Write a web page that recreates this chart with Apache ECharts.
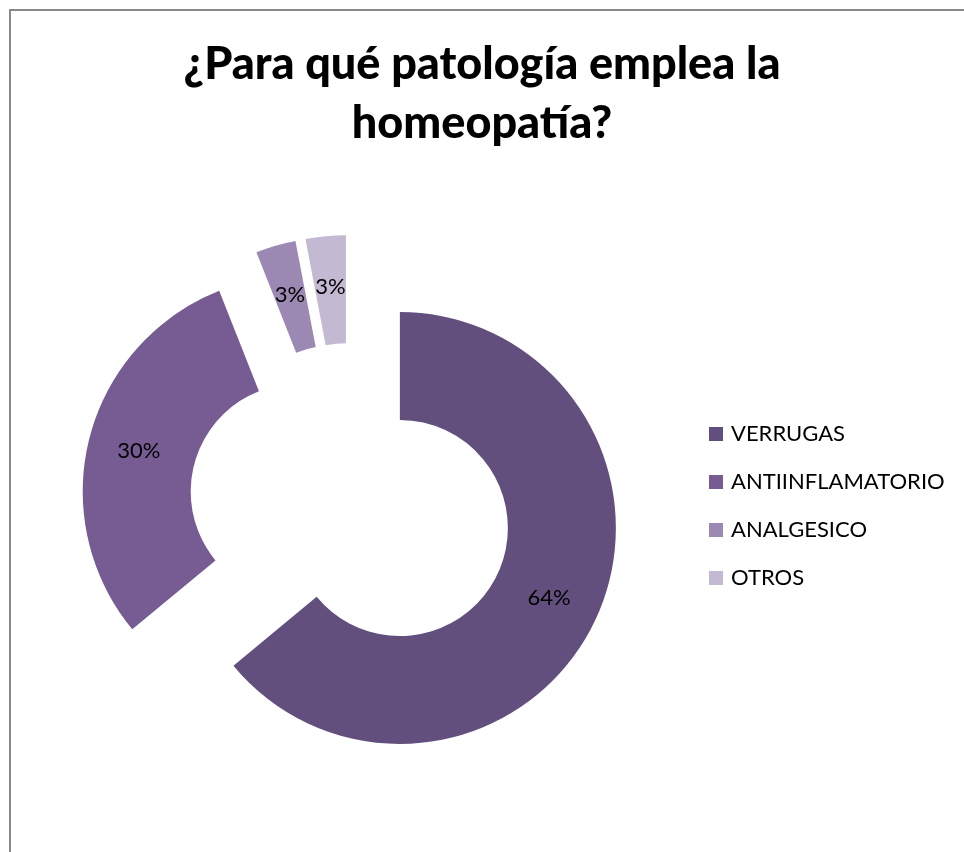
<!DOCTYPE html>
<html>
<head>
<meta charset="utf-8">
<script src="https://cdn.jsdelivr.net/npm/echarts@6/dist/echarts.min.js"></script>
<style>
  html, body { margin: 0; padding: 0; background: #fff; }
  #chart { width: 964px; height: 852px; }
</style>
</head>
<body>
<div id="chart"></div>
<script>
// datos
var categorias = ['VERRUGAS', 'ANTIINFLAMATORIO', 'ANALGESICO', 'OTROS'];
var valores = [64, 30, 3, 3];
var colores = ['#634f7e', '#775c94', '#9c89b3', '#c3b9d2'];

var chart = echarts.init(document.getElementById('chart'));

var datos = categorias.map(function (nombre, i) {
  return {
    name: nombre,
    value: valores[i],
    selected: true,
    itemStyle: { color: colores[i] },
    select: { itemStyle: { color: colores[i], borderWidth: 0 } }
  };
});

var option = {
  backgroundColor: '#ffffff',
  color: colores,
  title: {
    text: '¿Para qué patología emplea la\nhomeopatía?',
    left: 'center',
    top: 35,
    padding: [0, 0, 0, 20],
    textStyle: {
      fontFamily: 'Lato',
      fontWeight: 900,
      fontSize: 45,
      lineHeight: 59,
      color: '#000'
    }
  },
  legend: {
    orient: 'vertical',
    left: 704,
    top: 418,
    icon: 'rect',
    itemWidth: 14,
    itemHeight: 14,
    itemGap: 26,
    selectedMode: false,
    textStyle: {
      fontFamily: 'Lato',
      fontSize: 22,
      lineHeight: 22,
      padding: [0, 0, 0, 3],
      color: '#000'
    },
    data: categorias
  },
  graphic: [{
    type: 'rect',
    shape: { x: 10, y: 10, width: 970, height: 860 },
    style: { fill: 'none', stroke: '#898989', lineWidth: 2 },
    silent: true
  }],
  series: [{
    name: 'Patologia',
    type: 'pie',
    center: [351, 505],
    radius: [108, 216],
    startAngle: 90,
    clockwise: true,
    selectedMode: 'multiple',
    selectedOffset: 54,
    percentPrecision: 0,
    avoidLabelOverlap: false,
    animation: false,
    label: {
      show: true,
      position: 'inside',
      formatter: '{d}%',
      fontFamily: 'Lato',
      fontSize: 22,
      color: '#000'
    },
    labelLayout: { hideOverlap: false },
    labelLine: { show: false },
    emphasis: { disabled: true },
    data: datos
  }]
};

chart.setOption(option);
</script>
</body>
</html>
